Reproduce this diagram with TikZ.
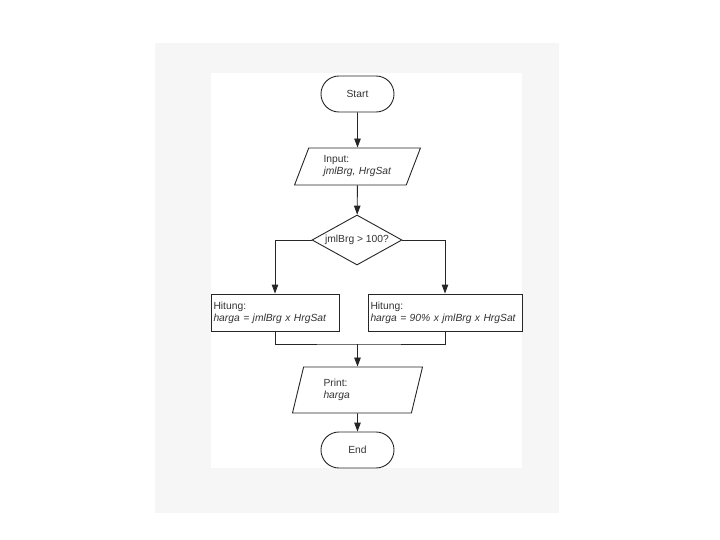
\documentclass[tikz,border=0pt]{standalone}
\usepackage{fontspec}
\setmainfont{Liberation Sans}
\usetikzlibrary{arrows.meta, shapes.geometric}

\begin{document}
\begin{tikzpicture}[x=1pt, y=-1pt,
    font=\fontsize{10.3pt}{12pt}\selectfont,
    every node/.style={text=black!80},
    terminal/.style={draw=black!85, line width=0.9pt, rectangle, rounded corners=17.9pt, minimum width=73pt, minimum height=36pt},
    io/.style={draw=black!85, line width=0.9pt, trapezium, trapezium stretches=true, inner sep=0pt, text width=68pt, align=left},
    decision/.style={draw=black!85, line width=0.9pt, diamond, shape aspect=1.8, inner sep=0pt, minimum width=90pt, minimum height=50pt},
    process/.style={draw=black!85, line width=0.9pt, rectangle, inner xsep=2.5pt, minimum height=37pt, align=left},
    line/.style={draw=black!85, line width=0.9pt},
    arrow/.style={line, -{Triangle[length=9pt, width=6.5pt]}}]
    % page and backgrounds
    \useasboundingbox (0,0) rectangle (720,540);
    \fill[white] (0,0) rectangle (720,540);
    \fill[black!3.5] (155,43) rectangle (559,513);
    \fill[white] (211,73) rectangle (522,468);

    \node[terminal] (start) at (357.5,94) {Start};
    \node[io, trapezium left angle=65, trapezium right angle=115, minimum width=127pt, minimum height=37pt] (input) at (357.5,166.5) {Input:\\ \textit{jmlBrg, HrgSat}};
    \node[decision] (cond) at (357,240) {jmlBrg > 100?};
    \node[process, text width=123pt, minimum width=128pt] (hitung1) at (275,312.5) {Hitung:\\ \textit{harga = jmlBrg x HrgSat}};
    \node[process, text width=149pt, minimum width=154pt] (hitung2) at (445,312.5) {Hitung:\\ \textit{harga = 90\% x jmlBrg x HrgSat}};
    \coordinate (join) at (357.5,344);
    \node[io, trapezium left angle=72, trapezium right angle=108, minimum width=131pt, minimum height=46pt] (print) at (357.5,390) {Print:\\ \textit{harga}};
    \node[terminal] (end) at (357.5,450) {End};

    \draw[arrow] (start) -- (input);
    \draw[arrow] (input) -- (cond);
    \draw[arrow] (cond.west) -| (hitung1.north);
    \draw[arrow] (cond.east) -| (hitung2.north);
    \draw[line] (hitung1.south) |- (join) -| (hitung2.south);
    \draw[arrow] (join) -- (print);
    \draw[arrow] (print) -- (end);
\end{tikzpicture}
\end{document}
